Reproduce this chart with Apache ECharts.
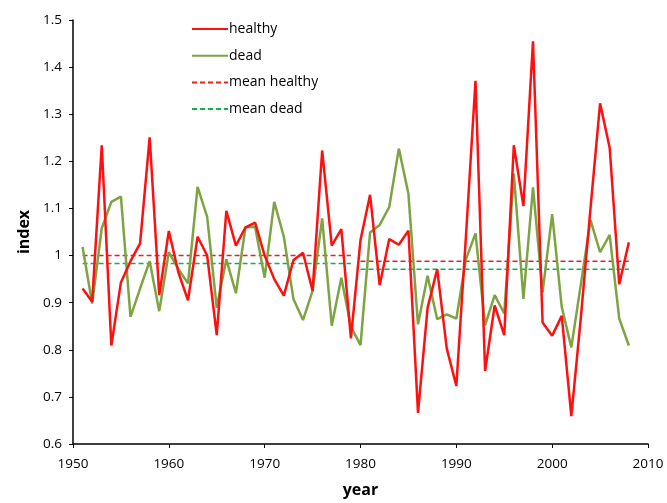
<!DOCTYPE html>
<html>
<head>
<meta charset="utf-8">
<script src="https://cdn.jsdelivr.net/npm/echarts@6/dist/echarts.min.js"></script>
<style>html,body{margin:0;padding:0;background:#fff}#c{width:667px;height:503px}</style>
</head>
<body>
<div id="c"></div>
<script>
var years = [1951,1952,1953,1954,1955,1956,1957,1958,1959,1960,1961,1962,1963,1964,1965,1966,1967,1968,1969,1970,
  1971,1972,1973,1974,1975,1976,1977,1978,1979,1980,1981,1982,1983,1984,1985,1986,1987,1988,1989,1990,
  1991,1992,1993,1994,1995,1996,1997,1998,1999,2000,2001,2002,2003,2004,2005,2006,2007,2008];
var healthy = [0.93,0.902,1.234,0.809,0.943,0.988,1.026,1.251,0.916,1.052,0.964,0.905,1.04,1.0,0.831,1.095,1.021,1.06,1.07,1.0,
  0.95,0.915,0.99,1.006,0.925,1.223,1.021,1.056,0.824,1.033,1.129,0.937,1.035,1.023,1.053,0.666,0.889,0.971,0.803,0.723,
  1.04,1.371,0.755,0.894,0.831,1.234,1.105,1.455,0.858,0.83,0.872,0.659,0.87,1.1,1.323,1.229,0.939,1.028];
var dead = [1.018,0.898,1.058,1.114,1.125,0.87,0.93,0.988,0.882,1.007,0.971,0.941,1.146,1.082,0.889,0.992,0.92,1.06,1.061,0.953,
  1.114,1.04,0.908,0.863,0.925,1.079,0.851,0.953,0.849,0.81,1.049,1.065,1.103,1.227,1.131,0.854,0.957,0.865,0.875,0.866,
  0.992,1.047,0.852,0.916,0.877,1.174,0.908,1.145,0.922,1.088,0.891,0.805,0.94,1.075,1.007,1.044,0.866,0.809];
var periods = [[1951,1979],[1980,2008]];
var meanHealthy = [1.0, 0.988];
var meanDead = [0.983, 0.971];
var xTicks = [1950,1960,1970,1980,1990,2000,2010];
var yTicks = [0.6,0.7,0.8,0.9,1.0,1.1,1.2,1.3,1.4,1.5];

function pairs(vals){ return years.map(function(y,i){ return [y, vals[i]]; }); }
function meanData(means){
  var d = [];
  periods.forEach(function(p,i){ d.push([p[0], means[i]]); d.push([p[1], means[i]]); d.push([p[1], null]); });
  return d;
}
var font = '"Open Sans", Lato, sans-serif';
var chart = echarts.init(document.getElementById('c'), null, {renderer:'canvas'});
chart.setOption({
  animation:false,
  backgroundColor:'#fff',
  grid:{left:73, right:19, top:20, bottom:52, containLabel:false},
  legend:{
    orient:'vertical', left:186, top:17, itemWidth:36, itemHeight:12, itemGap:12.7,
    itemStyle:{opacity:0},
    textStyle:{fontFamily:font, fontSize:14, color:'#000', padding:[0,0,0,-4]},
    data:['healthy','dead','mean healthy','mean dead']
  },
  xAxis:{
    type:'value', min:xTicks[0], max:xTicks[xTicks.length-1], interval:10,
    name:'year', nameLocation:'middle', nameGap:38,
    nameTextStyle:{fontFamily:font, fontSize:16, fontWeight:'bold', color:'#000'},
    axisLine:{lineStyle:{color:'#000', width:1.5}},
    axisTick:{show:true, length:4, lineStyle:{color:'#000'}},
    axisLabel:{fontFamily:font, fontSize:13.5, color:'#000', margin:13,
      formatter:function(v){ return String(v); }},
    splitLine:{show:false}
  },
  yAxis:{
    type:'value', min:yTicks[0], max:yTicks[yTicks.length-1], interval:0.1,
    name:'index', nameLocation:'middle', nameGap:41, nameRotate:90,
    nameTextStyle:{fontFamily:font, fontSize:16, fontWeight:'bold', color:'#000'},
    axisLine:{show:true, lineStyle:{color:'#000', width:1.5}},
    axisTick:{show:true, length:4, lineStyle:{color:'#000'}},
    axisLabel:{fontFamily:font, fontSize:13.5, color:'#000', margin:11,
      formatter:function(v){ return String(Math.round(v*10)/10); }},
    splitLine:{show:false}
  },
  series:[
    {name:'healthy', type:'line', data:pairs(healthy), symbol:'none', z:4,
      lineStyle:{color:'#ff1010', width:2.5}, itemStyle:{color:'#ff1010'}},
    {name:'dead', type:'line', data:pairs(dead), symbol:'none', z:3,
      lineStyle:{color:'#7ea343', width:2.5}, itemStyle:{color:'#7ea343'}},
    {name:'mean healthy', type:'line', data:meanData(meanHealthy), symbol:'none', connectNulls:false, z:2,
      lineStyle:{color:'#e8201e', width:1.6, type:[5,3]}, itemStyle:{color:'#e8201e'}},
    {name:'mean dead', type:'line', data:meanData(meanDead), symbol:'none', connectNulls:false, z:2,
      lineStyle:{color:'#12ae52', width:1.6, type:[5,3]}, itemStyle:{color:'#12ae52'}}
  ]
});
</script>
</body>
</html>
